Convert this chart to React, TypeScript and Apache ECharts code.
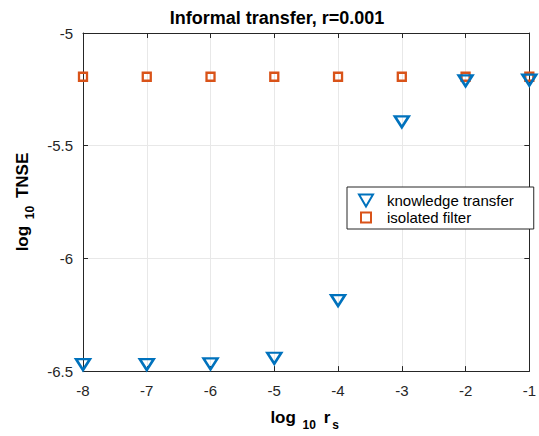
import React, { useEffect, useRef } from "react";
import * as echarts from "echarts";

const xValues = [-8, -7, -6, -5, -4, -3, -2, -1];
const knowledgeTransfer = [-6.471, -6.471, -6.468, -6.443, -6.187, -5.394, -5.212, -5.209];
const isolatedFilter = [-5.194, -5.194, -5.194, -5.194, -5.194, -5.194, -5.194, -5.194];
const seriesNames = ["knowledge transfer", "isolated filter"];

const FONT = "'Liberation Sans', Arial, Helvetica, sans-serif";
const AXIS = "#262626";
const TRI = "path://M0,0 L10,0 L5,8.66 Z";
const LEGEND_SQUARE = "path://M0,0 M16,13 M3,1.5 L13,1.5 L13,11.5 L3,11.5 Z";
const LEGEND_TRI = "path://M0,0 M16,13 M1,0.5 L15,0.5 L8,12.5 Z";

export default function App() {
  const ref = useRef<HTMLDivElement>(null);
  useEffect(() => {
    if (!ref.current) return;
    const chart = echarts.init(ref.current, undefined, { renderer: "svg" });
    const axisCommon = {
      axisLine: { show: true, lineStyle: { color: AXIS, width: 1 } },
      axisTick: { show: true, inside: true, length: 5, lineStyle: { color: AXIS } },
    };
    const nameRich = {
      a: { fontSize: 17, fontWeight: "bold", color: "#000", fontFamily: FONT, lineHeight: 20 },
      s: { fontSize: 12, fontWeight: "bold", color: "#000", fontFamily: FONT, lineHeight: 12, padding: [16, 3, 0, 2] },
    };
    chart.setOption({
      animation: false,
      backgroundColor: "#ffffff",
      textStyle: { fontFamily: FONT },
      title: {
        text: "Informal transfer, r=0.001",
        left: 277,
        textAlign: "center",
        top: 8,
        padding: 0,
        textStyle: { fontSize: 18, fontWeight: "bold", color: "#000", fontFamily: FONT, lineHeight: 20 },
      },
      grid: { left: 80, right: 6, top: 33, bottom: 53, containLabel: false },
      legend: {
        orient: "vertical",
        left: 347,
        top: 187,
        padding: [5, 20, 3, 10],
        itemGap: 0,
        itemWidth: 16,
        itemHeight: 13,
        borderColor: AXIS,
        borderWidth: 1,
        backgroundColor: "#fff",
        borderRadius: 0,
        data: [
          { name: seriesNames[0], icon: LEGEND_TRI },
          { name: seriesNames[1], icon: LEGEND_SQUARE },
        ],
        textStyle: { fontSize: 15, color: "#000", fontFamily: FONT, lineHeight: 17, padding: [0, 0, 0, 8] },
      },
      xAxis: [
        {
          type: "value",
          min: -8,
          max: -1,
          interval: 1,
          ...axisCommon,
          axisLabel: { fontSize: 15, color: AXIS, margin: 12, fontFamily: FONT },
          splitLine: { show: true, lineStyle: { color: "#e8e8e8", width: 1 } },
          name: "{a|log }{s|10}{a| r}{s|s}",
          nameLocation: "middle",
          nameGap: 28,
          nameTextStyle: { rich: nameRich },
        },
        {
          type: "value",
          position: "top",
          min: -8,
          max: -1,
          interval: 1,
          ...axisCommon,
          axisLabel: { show: false },
          splitLine: { show: false },
        },
      ],
      yAxis: [
        {
          type: "value",
          min: -6.5,
          max: -5,
          interval: 0.5,
          ...axisCommon,
          axisLabel: { fontSize: 15, color: AXIS, margin: 10, fontFamily: FONT },
          splitLine: { show: true, lineStyle: { color: "#e8e8e8", width: 1 } },
          name: "{a|log }{s|10}{a| TNSE}",
          nameLocation: "middle",
          nameRotate: 90,
          nameGap: 51,
          nameTextStyle: { rich: nameRich },
        },
        {
          type: "value",
          position: "right",
          min: -6.5,
          max: -5,
          interval: 0.5,
          ...axisCommon,
          axisLabel: { show: false },
          splitLine: { show: false },
        },
      ],
      series: [
        {
          name: seriesNames[0],
          type: "scatter",
          symbol: TRI,
          symbolSize: [14, 11],
          data: xValues.map((x, i) => [x, knowledgeTransfer[i]]),
          itemStyle: { color: "transparent", borderColor: "#0072BD", borderWidth: 2.5, opacity: 1 },
          z: 3,
        },
        {
          name: seriesNames[1],
          type: "scatter",
          symbol: "rect",
          symbolSize: 8,
          data: xValues.map((x, i) => [x, isolatedFilter[i]]),
          itemStyle: { color: "transparent", borderColor: "#D95319", borderWidth: 2.3, opacity: 1 },
          z: 2,
        },
      ],
    });
    return () => chart.dispose();
  }, []);
  return <div ref={ref} style={{ width: 539, height: 436, position: "absolute", left: 0, top: 0 }} />;
}
